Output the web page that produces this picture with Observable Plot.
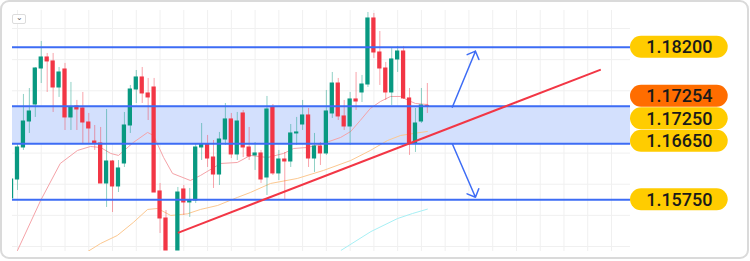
<!DOCTYPE html>
<html><head><meta charset="utf-8">
<script src="https://cdn.jsdelivr.net/npm/d3@7"></script>
<script src="https://cdn.jsdelivr.net/npm/@observablehq/plot@0.6"></script>
<style>
html,body{margin:0;padding:0;background:#fff;}
#wrap{position:relative;width:750px;height:261px;overflow:hidden;font-family:Roboto,sans-serif;}
#chart{position:absolute;left:0;top:0;}
#frame{position:absolute;left:0;top:0;width:749px;height:259px;box-sizing:border-box;border:2px solid #dadada;border-radius:9px;pointer-events:none;}
#btn{position:absolute;left:12px;top:14px;width:14px;height:10px;box-sizing:border-box;border:1px solid #dcdcdc;border-radius:2px;background:#fff;font-size:8px;line-height:6px;text-align:center;color:#666;}
</style></head>
<body><div id="wrap"><div id="chart"></div><div id="btn">⌄</div><div id="frame"></div></div>
<script>
// ---- data (index = candle slot, null = missing slot) ----
const opens  = [1.15771,1.16076,1.16590,1.17007,1.17280,1.17858,1.18035,1.17971,1.17553,1.17842,1.17072,1.17248,1.17216,1.16991,1.16686,1.16654,1.16012,1.16365,1.15964,1.16333,1.16943,1.17521,1.17714,1.17457,1.17553,1.15884,1.15450,null,1.14936,1.15916,1.15707,1.15739,1.16590,1.16638,1.16429,1.16156,1.16718,1.17040,1.16478,1.17136,1.16590,1.16462,1.16494,1.16108,1.17232,1.16173,1.16397,1.16365,1.16815,1.16959,1.17104,1.16413,1.16606,1.16494,1.17136,1.17617,1.17088,1.16927,1.17361,1.17473,1.17601,1.18661,1.18115,1.17858,1.17473,1.18003,1.18131,1.17377,1.16654,1.17007,1.17258];
const highs  = [1.16140,1.16654,1.17441,1.17537,1.17874,1.18292,1.18099,1.18099,1.17874,1.17939,1.17634,1.17345,1.17473,1.17136,1.16943,1.16911,1.17200,1.16381,1.16381,1.17152,1.17585,1.17826,1.17874,1.17698,1.17698,1.16012,1.15578,null,1.15948,1.15980,1.15932,1.16638,1.16975,1.16783,1.16702,1.16831,1.17296,1.17136,1.17152,1.17184,1.16911,1.16670,1.16542,1.17409,1.17280,1.16542,1.16510,1.16959,1.17072,1.17345,1.17216,1.16815,1.16670,1.17505,1.17794,1.17698,1.17345,1.17473,1.17794,1.17746,1.18757,1.18741,1.18452,1.17955,1.18195,1.18212,1.18212,1.17537,1.17216,1.17537,1.17617];
const lows   = [1.15739,1.15900,1.16542,1.16815,1.17072,1.17617,1.17473,1.17152,1.17393,1.16863,1.16863,1.16863,1.16654,1.16654,1.16542,1.16012,1.15627,1.15546,1.15867,1.16269,1.16815,1.17296,1.17296,1.17023,1.15867,1.15209,1.14936,null,1.14936,1.15498,1.15466,1.15691,1.16381,1.16269,1.15932,1.15980,1.16622,1.16413,1.16381,1.16429,1.16381,1.16221,1.16012,1.15819,1.16140,1.16060,1.15739,1.16269,1.16622,1.16863,1.16269,1.16189,1.16301,1.16462,1.17056,1.17023,1.16863,1.16622,1.17184,1.17312,1.17553,1.18019,1.17585,1.17345,1.17264,1.17794,1.17361,1.16462,1.16510,1.16975,1.17136];
const closes = [1.16076,1.16590,1.17007,1.17168,1.17858,1.18035,1.17971,1.17553,1.17794,1.17072,1.17232,1.17200,1.16991,1.16895,1.16654,1.16012,1.16365,1.15964,1.16253,1.16943,1.17521,1.17714,1.17457,1.17393,1.15867,1.15450,1.14936,null,1.15867,1.15707,1.15739,1.16590,1.16638,1.16413,1.16156,1.16718,1.17040,1.16478,1.17007,1.16590,1.16445,1.16494,1.16076,1.17200,1.16173,1.16397,1.16365,1.16815,1.16831,1.17104,1.16413,1.16606,1.16494,1.17168,1.17617,1.17088,1.16927,1.17361,1.17328,1.17601,1.18661,1.18115,1.17858,1.17473,1.18003,1.18131,1.17377,1.16654,1.16975,1.17264,1.17254];

// moving averages (read points)
const maFastIdx = [1,4.9,8.2,11.1,13.3,15,16.7,18,20.5,22.9,23.9,25.6,27.1,30.1,31.8,35.2,38,40.2,43.1,45.8,47.5,49.8,52.5,55.4,57.1,58.7,60.4,62.1,63.8,65.5,66.8,68,70];
const maFastVal = [1.14936,1.15739,1.16333,1.16542,1.16606,1.16590,1.16494,1.16462,1.16670,1.16831,1.16783,1.16429,1.16173,1.16060,1.16140,1.16333,1.16349,1.16462,1.16429,1.16494,1.16574,1.16590,1.16654,1.16751,1.16847,1.17023,1.17216,1.17328,1.17409,1.17409,1.17345,1.17296,1.17280];
const maMidIdx = [12.5,15,17.8,20.5,22.9,24.6,26.8,29.6,31.8,34.7,38,40.2,43.6,48.1,52.5,57.1,60.4,63.3,65.5,67.7,70];
const maMidVal = [1.14900,1.15049,1.15177,1.15386,1.15595,1.15611,1.15498,1.15525,1.15595,1.15659,1.15787,1.15867,1.16012,1.16092,1.16221,1.16381,1.16542,1.16702,1.16783,1.16815,1.16847];
const maSlowIdx = [55.5,60.5,65,67.5,70];
const maSlowVal = [1.14940,1.15240,1.15450,1.15530,1.15600];

// drawings
const levels = [1.18200, 1.17250, 1.16650, 1.15750];
const zoneLow = 1.16650, zoneHigh = 1.17250;
const trendIdx = [28, 99.2];
const trendVal = [1.15220, 1.17840];
const arrowStartIdx = [74.2, 74.2], arrowStartVal = [1.17237, 1.16649];
const arrowEndIdx = [78.1, 78.1], arrowEndVal = [1.18136, 1.15792];

// price labels
const labelValues = [1.18200, 1.17254, 1.17250, 1.16650, 1.15750];
const labelTexts  = ["1.18200", "1.17254", "1.17250", "1.16650", "1.15750"];
const labelFills  = ["#ffcc00", "#ff6d00", "#ffcc00", "#ffcc00", "#ffcc00"];

// grid
const gridPrices = [1.150, 1.155, 1.160, 1.165, 1.170, 1.175, 1.180, 1.185];
const gridIdx = d3.range(1, 104, 4);

// ---- layout ----
const W = 750, H = 261;
const M = {top: 10, right: 120, bottom: 10, left: 12};
const xDomain = [0.16, 104.2];
const yDomain = [1.1492, 1.18789];
const xs = d3.scaleLinear(xDomain, [M.left, W - M.right]);
const ys = d3.scaleLinear(yDomain, [H - M.bottom, M.top]);

const BLUE = "#3d6cf5", GREEN = "#089981", RED = "#f23645";

const candles = opens.map((o, i) => ({i, o, h: highs[i], l: lows[i], c: closes[i]})).filter(d => d.o != null);
const up = candles.filter(d => d.c >= d.o), down = candles.filter(d => d.c < d.o);
const ma = (idx, val) => idx.map((x, k) => ({x, y: val[k]}));

// dodge labels in pixel space
const PILL_H = 22, STEP = 22.5, PAD = 4;
function dodge(pys) {
  const order = d3.range(pys.length).sort((a, b) => pys[a] - pys[b]);
  const place = g => { const m = d3.mean(g.members, k => pys[k]); g.top = m - (g.members.length - 1) * STEP / 2; g.bottom = g.top + (g.members.length - 1) * STEP; return g; };
  let groups = order.map(k => place({members: [k]}));
  let changed = true;
  while (changed) {
    changed = false;
    for (let k = 0; k < groups.length - 1; k++) {
      const a = groups[k], b = groups[k + 1];
      if (b.top - a.bottom < STEP + PAD) { groups.splice(k, 2, place({members: a.members.concat(b.members)})); changed = true; break; }
    }
  }
  const out = new Array(pys.length);
  groups.forEach(g => g.members.forEach((k, j) => out[k] = g.top + j * STEP));
  return out;
}
const labelPy = dodge(labelValues.map(v => ys(v)));
const pillLeft = W - M.right, pillRight = pillLeft + 97.7;
const labels = labelValues.map((v, k) => ({
  text: labelTexts[k], fill: labelFills[k],
  x1: xs.invert(pillLeft), x2: xs.invert(pillRight), xc: xs.invert((pillLeft + pillRight) / 2),
  y: ys.invert(labelPy[k]), y1: ys.invert(labelPy[k] - PILL_H / 2), y2: ys.invert(labelPy[k] + PILL_H / 2)
}));
const arrows = arrowStartIdx.map((x1, k) => ({x1, y1: arrowStartVal[k], x2: arrowEndIdx[k], y2: arrowEndVal[k]}));

const chart = Plot.plot({
  width: W, height: H,
  marginTop: M.top, marginRight: M.right, marginBottom: M.bottom, marginLeft: M.left,
  x: {type: "linear", domain: xDomain, axis: null},
  y: {type: "linear", domain: yDomain, axis: null},
  style: {background: "transparent", fontFamily: "Roboto, sans-serif"},
  marks: [
    Plot.ruleY(gridPrices, {stroke: "#f0f0f0", strokeWidth: 1}),
    Plot.ruleX(gridIdx, {stroke: "#f0f0f0", strokeWidth: 1}),
    Plot.rect([{}], {y1: zoneLow, y2: zoneHigh, fill: "#d3e0fd"}),
    Plot.line(ma(maSlowIdx, maSlowVal), {x: "x", y: "y", stroke: "#a8f0f5", strokeWidth: 1, clip: true}),
    Plot.line(ma(maMidIdx, maMidVal), {x: "x", y: "y", stroke: "#fcc890", strokeWidth: 1, clip: true}),
    Plot.line(ma(maFastIdx, maFastVal), {x: "x", y: "y", stroke: "#f5a3a8", strokeWidth: 1, clip: true}),
    Plot.ruleX(up, {x: "i", y1: "l", y2: "h", stroke: GREEN, strokeOpacity: 0.45, clip: true}),
    Plot.ruleX(down, {x: "i", y1: "l", y2: "h", stroke: RED, strokeOpacity: 0.45, clip: true}),
    Plot.rect(up, {x1: d => d.i - 0.36, x2: d => d.i + 0.36, y1: "o", y2: "c", fill: GREEN, insetTop: -0.5, insetBottom: -0.5, clip: true}),
    Plot.rect(down, {x1: d => d.i - 0.36, x2: d => d.i + 0.36, y1: "o", y2: "c", fill: RED, insetTop: -0.5, insetBottom: -0.5, clip: true}),
    Plot.ruleY(levels, {stroke: BLUE, strokeWidth: 2}),
    Plot.link([{}], {x1: trendIdx[0], y1: trendVal[0], x2: trendIdx[1], y2: trendVal[1], stroke: RED, strokeWidth: 2}),
    Plot.arrow(arrows, {x1: "x1", y1: "y1", x2: "x2", y2: "y2", stroke: BLUE, strokeWidth: 1.5, headLength: 9, headAngle: 90}),
    Plot.rect(labels, {x1: "x1", x2: "x2", y1: "y1", y2: "y2", fill: "fill", rx: 11}),
    Plot.text(labels, {x: "xc", y: "y", text: "text", fontSize: 18, fontWeight: 500, fill: "#1a1a1a"})
  ],
  color: {type: "identity"}
});
document.getElementById("chart").appendChild(chart);
</script>
</body></html>
